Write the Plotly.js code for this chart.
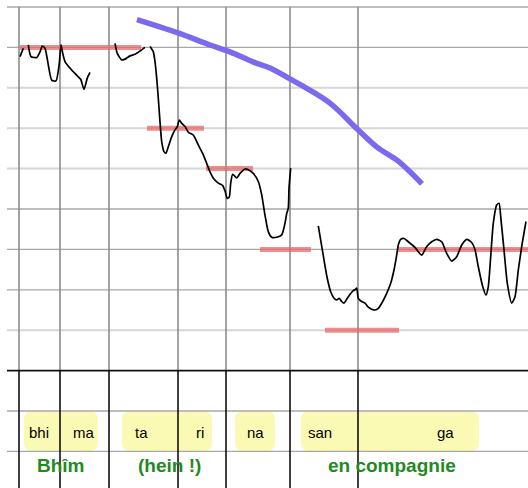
<!DOCTYPE html>
<html>
<head>
<meta charset="utf-8">
<script src="https://cdn.plot.ly/plotly-3.0.1.min.js"></script>
<style>html,body{margin:0;padding:0;background:#fff;}#chart{width:528px;height:488px;}</style>
</head>
<body>
<div id="chart"></div>
<script>
// ---- Data (time in arbitrary units, pitch in scale steps; 0 = baseline) ----
const contourT = [20,23.3,null,28.3,31,36.7,40,42.3,45,51.7,56,59.3,61,62.7,65,71.7,78.3,80.7,84,87.3,90,null,
  115,117.3,121.7,125,130,135,140,145,null,
  150,153.3,155,156.7,158.3,160,161.7,164,166,168.3,171.7,175,177.3,179.3,181.7,185,188.3,193.3,196.7,200,203.3,206.7,210,214,218.3,222.7,225,227.3,229.3,230.7,232.7,236.7,240,245,248.3,253.3,258.3,261.7,265,268.3,271.7,276.7,281.7,285,286.7,288.3,289,290.7,null,
  318.3,320.7,324,327.3,330.7,334,336.7,339.3,341.7,344,347.3,350.7,353.3,355,356.7,358.3,361.7,365,368.3,371.7,375,378.3,382.7,386.7,390.7,394,396.7,398.3,400.7,404,408.3,415,421.7,426.7,431.7,436.7,441.7,446.7,451.7,456.7,461.7,466.7,471.7,475,478.3,482.7,486,488.3,490.7,493.3,496.7,499,501,504,507.3,511.7,515,518.3,521.7,526];
const contourP = [7.77,7.98,null,8.06,7.77,7.75,7.89,8.03,7.98,7.19,7.17,7.61,8.06,7.86,7.65,7.44,7.27,7.21,6.96,7.24,7.38,null,
  8.10,7.85,7.69,7.71,7.79,7.83,7.91,8.00,null,
  8.02,7.89,7.65,7.24,6.74,6.16,5.67,5.42,5.38,5.54,5.79,5.96,6.04,6.20,6.12,6.04,5.90,5.83,5.67,5.50,5.34,5.13,4.92,4.74,4.64,4.58,4.45,4.26,4.30,4.64,4.86,4.77,4.88,4.99,4.97,4.88,4.68,4.35,3.85,3.44,3.30,3.30,3.36,3.65,3.89,4.02,4.51,5.01,null,
  3.58,3.23,2.74,2.28,1.95,1.79,1.75,1.79,1.71,1.67,1.79,1.91,1.98,2.00,2.04,1.79,1.71,1.67,1.57,1.52,1.50,1.54,1.71,1.91,2.16,2.49,2.86,3.11,3.25,3.27,3.19,3.05,2.86,3.07,3.19,3.25,3.19,2.90,2.71,2.82,3.11,3.25,3.17,2.99,2.57,2.08,1.87,2.08,2.82,3.65,4.10,4.14,3.73,2.99,2.16,1.67,1.83,2.49,3.07,3.69];

const intonationT = [137,178,210,230,253,270,290,303,330,358,377,397,410,422];
const intonationP = [8.69,8.36,8.06,7.89,7.64,7.49,7.22,7.04,6.62,5.96,5.53,5.21,4.92,4.62];

const noteStart = [20,147,206,260,325,398];
const noteEnd   = [141,204,253,311,399,528];
const noteLevel = [8,6,5,3,1,3];

const gridDark  = [9,8,4,3,2,-1,-2];
const gridLight = [7,6,5,1];
const baseLevel = 0;
const barTimes  = [19,60,109,178,226,290,358];

const syllables  = ["bhi","ma","ta","ri","na","san","ga"];
const syllableT  = [38.5,83,141.5,199.5,255.5,320,445.5];
const boxStart   = [24,122,235,301];
const boxEnd     = [98,212,275,479];
const glosses    = ["Bhîm","(hein !)","en compagnie"];
const glossT     = [61.3,169,392];

// ---- Layout helpers ----
const X0 = 0, X1 = 528;
const Y0 = -2.906, Y1 = 9.173;
const gridStart = 7;
const shapes = [];

function roundRect(x0, x1, y0, y1, rx, ry) {
  return `M ${x0+rx},${y0} L ${x1-rx},${y0} Q ${x1},${y0} ${x1},${y0+ry} L ${x1},${y1-ry} Q ${x1},${y1} ${x1-rx},${y1} L ${x0+rx},${y1} Q ${x0},${y1} ${x0},${y1-ry} L ${x0},${y0+ry} Q ${x0},${y0} ${x0+rx},${y0} Z`;
}
boxStart.forEach((s, i) => {
  shapes.push({type:'path', xref:'x', yref:'y', layer:'below',
    path: roundRect(s, boxEnd[i], -2, -1, 9, 0.22),
    fillcolor:'rgb(250,250,180)', line:{width:0}});
});
gridLight.forEach(l => shapes.push({type:'line', xref:'x', yref:'y', layer:'below',
  x0:gridStart, x1:X1, y0:l, y1:l, line:{color:'#d6d6d6', width:2}}));
gridDark.forEach(l => shapes.push({type:'line', xref:'x', yref:'y', layer:'below',
  x0:gridStart, x1:X1, y0:l, y1:l, line:{color:'#a8a8a8', width:1.3}}));
barTimes.forEach(t => {
  shapes.push({type:'line', xref:'x', yref:'y', layer:'below',
    x0:t, x1:t, y0:9, y1:baseLevel, line:{color:'#8c8c8c', width:1.6}});
  shapes.push({type:'line', xref:'x', yref:'y', layer:'below',
    x0:t, x1:t, y0:baseLevel, y1:Y0-0.2, line:{color:'#111', width:1.6}});
});
shapes.push({type:'line', xref:'x', yref:'y', layer:'below',
  x0:gridStart, x1:X1, y0:baseLevel, y1:baseLevel, line:{color:'#111', width:1.6}});

const traces = [];
noteStart.forEach((s, i) => traces.push({
  type:'scatter', mode:'lines', x:[s, noteEnd[i]], y:[noteLevel[i], noteLevel[i]],
  line:{color:'rgba(232,105,105,0.75)', width:5}, hoverinfo:'skip', showlegend:false
}));
traces.push({type:'scatter', mode:'lines', x:contourT, y:contourP, connectgaps:false,
  line:{color:'#000', width:1.7, shape:'spline', smoothing:0.6}, hoverinfo:'skip', showlegend:false});
traces.push({type:'scatter', mode:'lines', x:intonationT, y:intonationP,
  line:{color:'rgb(122,106,240)', width:5.5, shape:'spline'}, hoverinfo:'skip', showlegend:false});

const annotations = [];
syllables.forEach((s, i) => annotations.push({x:syllableT[i], y:-1.52, xref:'x', yref:'y', text:s,
  showarrow:false, font:{family:'Liberation Sans, Arial, sans-serif', size:15, color:'#000'}}));
glosses.forEach((g, i) => annotations.push({x:glossT[i], y:-2.36, xref:'x', yref:'y', text:'<b>'+g+'</b>',
  showarrow:false, font:{family:'Liberation Sans, Arial, sans-serif', size:19, color:'#1f8a1f'}}));

const layout = {
  width:528, height:488, margin:{l:0,r:0,t:0,b:0},
  paper_bgcolor:'#fff', plot_bgcolor:'#fff', showlegend:false,
  xaxis:{range:[X0,X1], visible:false, fixedrange:true},
  yaxis:{range:[Y0,Y1], visible:false, fixedrange:true},
  shapes, annotations
};
Plotly.newPlot('chart', traces, layout, {displayModeBar:false, staticPlot:true});
</script>
</body>
</html>
